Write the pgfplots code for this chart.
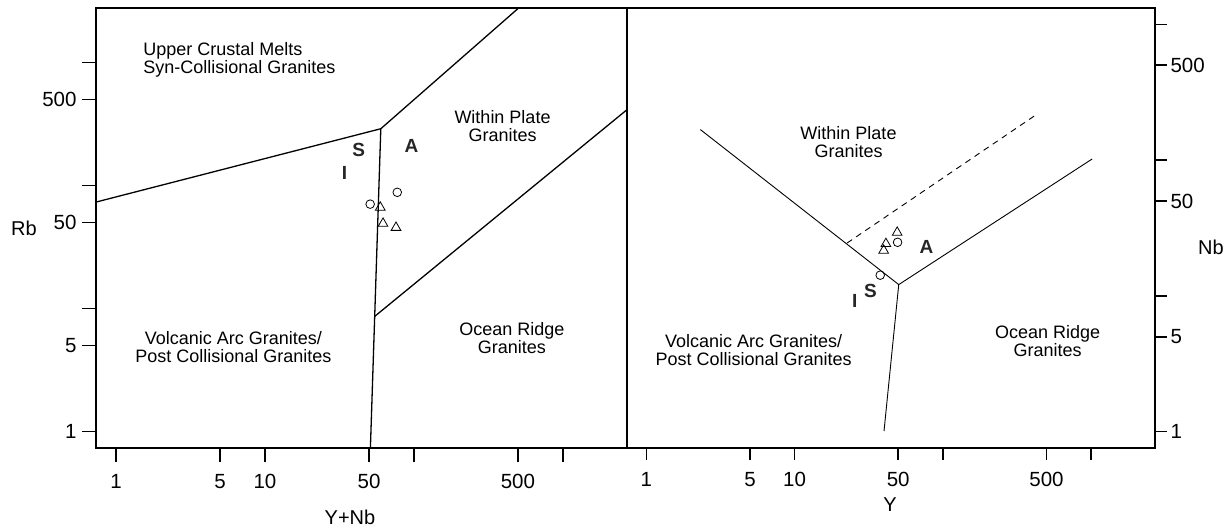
\documentclass[border=0pt]{standalone}
\usepackage{fontspec}
\setmainfont{Liberation Sans}
\usepackage{pgfplots}
\pgfplotsset{compat=1.18}
\tikzset{
  myregion/.style={font=\fontsize{18}{18}\selectfont, align=center, text=black, inner sep=0pt},
  mybig/.style={font=\fontsize{19}{19}\selectfont\bfseries, text=black!85, inner sep=0pt},
}
\begin{document}
\begin{tikzpicture}
\path[use as bounding box] (0pt,0pt) rectangle (1226pt,530pt);
\begin{axis}[scale only axis, anchor=south west, at={(96pt,82pt)}, width=531pt, height=440pt,
  xmode=log, ymode=log,
  xmin=0.734, xmax=2700, ymin=0.736, ymax=2780,
  xtick={1,5,10,50,100,500,1000}, xticklabels={1,5,10,50,,500,},
  ytick={1,5,10,50,100,500,1000}, yticklabels={1,5,,50,,500,},
  minor tick num=0, tick align=outside, xtick pos=bottom, ytick pos=left,
  major tick length=14pt,
  tick style={line width=1.6pt, black},
  axis line style={line width=1.8pt, black},
  ticklabel style={font=\fontsize{20.5}{20.5}\selectfont},
  xticklabel style={yshift=-9pt},
  yticklabel style={xshift=-2pt},
  /pgf/number format/assume math mode=true]
  \addplot[black, line width=1.3pt] coordinates {(0.6,69) (60,290) (560,3100)};
  \addplot[black, line width=1.3pt] coordinates {(60,290) (50.8,0.6)};
  \addplot[black, line width=1.3pt] coordinates {(54.6,8.65) (3000,460)};
  \addplot[only marks, mark=o, mark size=4.3pt, mark options={line width=0.8pt, black}] coordinates {(50.9,70.7) (77.4,88.2)};
  \addplot[only marks, mark=triangle, mark size=5.6pt, mark options={line width=0.8pt, black}] coordinates {(59.5,66.5) (62.1,49.2) (75.9,45.6)};
  \node[myregion, anchor=west, align=left] at (axis cs:1.52,1060) {Upper Crustal Melts\\Syn-Collisional Granites};
  \node[myregion] at (axis cs:394,305) {Within Plate\\Granites};
  \node[myregion] at (axis cs:6.14,4.9) {Volcanic Arc Granites/\\Post Collisional Granites};
  \node[myregion] at (axis cs:455,5.74) {Ocean Ridge\\Granites};
  \node[mybig] at (axis cs:42.7,196) {S};
  \node[mybig] at (axis cs:96.3,209) {A};
  \node[mybig] at (axis cs:34.3,126) {I};
\end{axis}
\begin{axis}[scale only axis, anchor=south west, at={(627pt,82pt)}, width=528pt, height=440pt,
  xmode=log, ymode=log,
  xmin=0.74, xmax=2700, ymin=0.757, ymax=1320,
  xtick={1,5,10,50,100,500,1000}, xticklabels={1,5,10,50,,500,},
  ytick={1,5,10,50,100,500,1000}, yticklabels={1,5,,50,,500,},
  minor tick num=0, tick align=outside, xtick pos=bottom, ytick pos=right, yticklabel pos=right,
  major tick length=12pt,
  tick style={line width=1.6pt, black},
  axis line style={line width=1.8pt, black},
  ticklabel style={font=\fontsize{20.5}{20.5}\selectfont},
  xticklabel style={yshift=-9pt},
  /pgf/number format/assume math mode=true]
  \addplot[black, line width=0.9pt] coordinates {(2.31,168) (50.4,12.1) (1018,102)};
  \addplot[black, line width=0.9pt] coordinates {(50.4,12.1) (40.1,1.01)};
  \addplot[black, line width=0.9pt, dash pattern=on 6pt off 5pt] coordinates {(22.6,24.5) (413,211)};
  \addplot[only marks, mark=o, mark size=4.3pt, mark options={line width=0.8pt, black}] coordinates {(49.5,24.8) (37.8,14.2)};
  \addplot[only marks, mark=triangle, mark size=5.6pt, mark options={line width=0.8pt, black}] coordinates {(49.2,29.3) (41.3,24.2) (39.9,21.6)};
  \node[myregion] at (axis cs:23.1,136) {Within Plate\\Granites};
  \node[myregion] at (axis cs:5.29,3.99) {Volcanic Arc Granites/\\Post Collisional Granites};
  \node[myregion] at (axis cs:510,4.68) {Ocean Ridge\\Granites};
  \node[mybig] at (axis cs:77.7,23.0) {A};
  \node[mybig] at (axis cs:32.5,10.8) {S};
  \node[mybig] at (axis cs:25.5,9.1) {I};
\end{axis}
\node[font=\fontsize{20}{20}\selectfont] at (24pt,302pt) {Rb};
\node[font=\fontsize{20}{20}\selectfont] at (350pt,13pt) {Y+Nb};
\node[font=\fontsize{20}{20}\selectfont] at (890pt,25pt) {Y};
\node[font=\fontsize{20}{20}\selectfont] at (1211pt,283pt) {Nb};
\end{tikzpicture}
\end{document}
